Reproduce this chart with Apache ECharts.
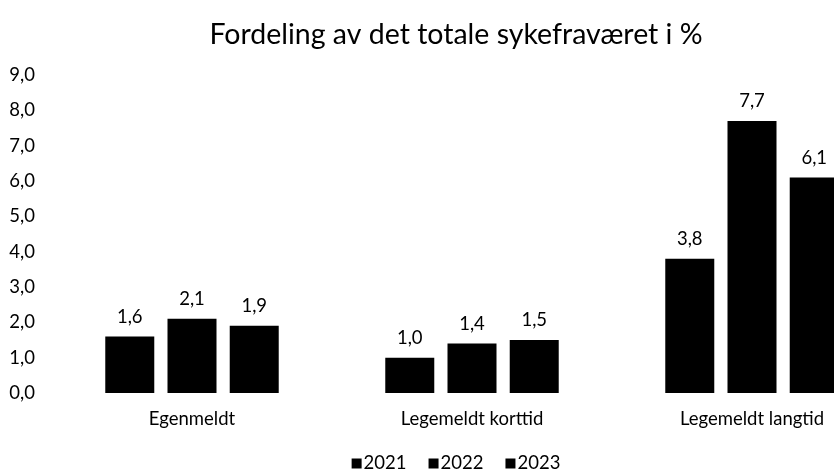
<!DOCTYPE html>
<html>
<head>
<meta charset="utf-8">
<script src="https://cdn.jsdelivr.net/npm/echarts@6/dist/echarts.min.js"></script>
<style>
  html, body { margin: 0; padding: 0; overflow: hidden; background: #fff; }
  #chart { width: 912px; height: 470px; }
</style>
</head>
<body>
<div id="chart"></div>
<script>
const categories = ["Egenmeldt", "Legemeldt korttid", "Legemeldt langtid"];
const years = ["2021", "2022", "2023"];
const values2021 = [1.6, 1.0, 3.8];
const values2022 = [2.1, 1.4, 7.7];
const values2023 = [1.9, 1.5, 6.1];

const fmt = (v) => v.toFixed(1).replace(".", ",");
const font = "Lato";

let myChart = echarts.init(document.getElementById("chart"));

function makeSeries(name, data) {
  return {
    name: name,
    type: "bar",
    data: data,
    barWidth: 49,
    barGap: "27%",
    itemStyle: { color: "#000" },
    label: {
      show: true,
      position: "top",
      distance: 10,
      color: "#000",
      fontFamily: font,
      fontSize: 18.5,
      formatter: (p) => fmt(p.value),
    },
  };
}

let option = {
  animation: false,
  textStyle: { fontFamily: font },
  title: {
    text: "Fordeling av det totale sykefraværet i %",
    left: "center",
    top: 15,
    textStyle: { fontFamily: font, fontSize: 28.5, fontWeight: "normal", color: "#000" },
  },
  legend: {
    data: years,
    bottom: -8,
    left: "center",
    icon: "rect",
    itemWidth: 10,
    itemHeight: 10,
    itemGap: 22,
    textStyle: { fontFamily: font, fontSize: 18.5, color: "#000", padding: [0, 0, 0, -3] },
  },
  grid: { left: 52, right: 20, top: 75, bottom: 77 },
  xAxis: {
    type: "category",
    data: categories,
    axisLine: { show: false },
    axisTick: { show: false },
    axisLabel: { color: "#000", fontFamily: font, fontSize: 18.5, margin: 17 },
  },
  yAxis: {
    type: "value",
    min: 0,
    max: 9,
    interval: 1,
    splitLine: { show: false },
    axisLine: { show: false },
    axisTick: { show: false },
    axisLabel: {
      color: "#000",
      fontFamily: font,
      fontSize: 18.5,
      margin: 17,
      formatter: (v) => fmt(v),
    },
  },
  series: [
    makeSeries(years[0], values2021),
    makeSeries(years[1], values2022),
    makeSeries(years[2], values2023),
  ],
};

myChart.setOption(option);
</script>
</body>
</html>
